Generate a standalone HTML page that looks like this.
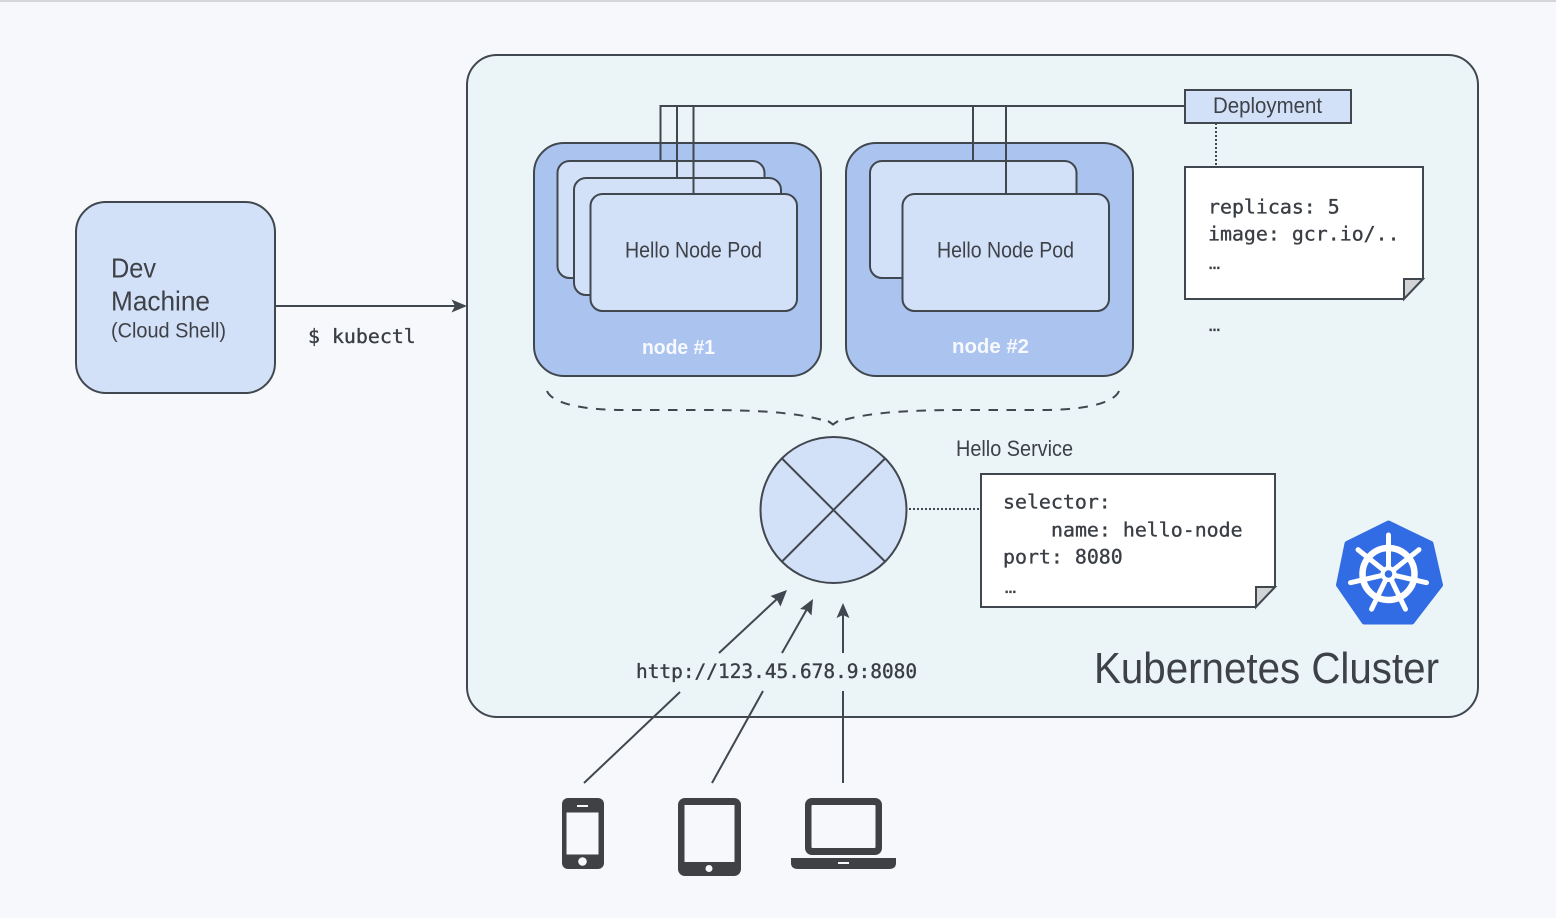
<!DOCTYPE html>
<html><head><meta charset="utf-8"><title>Kubernetes Cluster</title>
<style>
html,body{margin:0;padding:0;background:#f6f8fc}
svg{display:block}
.s{font-family:"Liberation Sans",sans-serif;fill:#3e4248}
.m{font-family:"DejaVu Sans Mono","Liberation Mono",monospace;fill:#3a3e44;font-size:19.9px;stroke:#3a3e44;stroke-width:.35px}
.d{font-size:12px;font-weight:bold}
.b{stroke:#41474f;stroke-width:2}
</style></head><body>
<svg width="1556" height="918" viewBox="0 0 1556 918" xmlns="http://www.w3.org/2000/svg">
<rect width="1556" height="918" fill="#f6f8fc"/>
<rect width="1556" height="2" fill="#d4d6d9"/>

<!-- Dev machine -->
<rect class="b" x="76" y="202" width="199" height="191" rx="30" fill="#d3e1f8"/>
<text class="s" x="111" y="277.500" font-size="28" textLength="45" lengthAdjust="spacingAndGlyphs">Dev</text>
<text class="s" x="111" y="310.500" font-size="28" textLength="99" lengthAdjust="spacingAndGlyphs">Machine</text>
<text class="s" x="111" y="337.500" font-size="21.5" textLength="115" lengthAdjust="spacingAndGlyphs">(Cloud Shell)</text>

<!-- Cluster -->
<rect class="b" x="467" y="55" width="1011" height="662" rx="30" fill="#ebf5f8"/>

<!-- kubectl arrow -->
<path d="M275 306H456" class="b" fill="none"/>
<path d="M467 306L451.500 299.500L455 306L451.500 312.500Z" fill="#41474f"/>
<text class="m" x="308" y="343">$ kubectl</text>

<!-- node 1 -->
<rect class="b" x="534" y="143" width="287" height="233" rx="30" fill="#abc3ef"/>
<rect class="b" x="557.500" y="161" width="207" height="117" rx="12" fill="#d3e1f8"/>
<rect class="b" x="574" y="178" width="207" height="117" rx="12" fill="#d3e1f8"/>
<rect class="b" x="590.500" y="194" width="206.500" height="117" rx="12" fill="#d3e1f8"/>
<text class="s" x="625" y="257.500" font-size="22" textLength="137" lengthAdjust="spacingAndGlyphs">Hello Node Pod</text>
<text x="642" y="354" font-family="Liberation Sans,sans-serif" font-weight="bold" font-size="20" fill="#f7f9fe" textLength="73" lengthAdjust="spacingAndGlyphs">node #1</text>

<!-- node 2 -->
<rect class="b" x="846" y="143" width="287" height="233" rx="30" fill="#abc3ef"/>
<rect class="b" x="870" y="161" width="206.500" height="117" rx="12" fill="#d3e1f8"/>
<rect class="b" x="902.500" y="194" width="206.500" height="117" rx="12" fill="#d3e1f8"/>
<text class="s" x="937" y="257.500" font-size="22" textLength="137" lengthAdjust="spacingAndGlyphs">Hello Node Pod</text>
<text x="952" y="353" font-family="Liberation Sans,sans-serif" font-weight="bold" font-size="20" fill="#f7f9fe" textLength="77" lengthAdjust="spacingAndGlyphs">node #2</text>

<!-- deployment connectors -->
<path class="b" fill="none" d="M1185 106H660.500V161M677 106V178M693.500 106V194M973 106V161M1006 106V194"/>
<rect class="b" x="1185" y="90" width="166" height="33" fill="#d3e1f8"/>
<text class="s" x="1213" y="113" font-size="22" textLength="109" lengthAdjust="spacingAndGlyphs">Deployment</text>
<path d="M1216 123V167" stroke="#41474f" stroke-width="2" stroke-dasharray="2 2" fill="none"/>

<!-- note 1 -->
<path class="b" fill="#fff" d="M1185 167H1423V279L1403 299H1185Z"/>
<path class="b" fill="#d2d3d4" d="M1423 279H1404V299Z"/>
<text class="m" x="1208" y="213.500">replicas: 5</text>
<text class="m" x="1208" y="240.500">image: gcr.io/..</text>
<text class="m d" x="1207" y="269" textLength="15">...</text>
<text class="m d" x="1207" y="331" textLength="15">...</text>

<!-- brace -->
<path d="M547 391C552 403 580 410 625 410H700C755 410 795 412 824 420.500" fill="none" stroke="#41474f" stroke-width="2" stroke-dasharray="9.500 8.500"/>
<path d="M1119 391C1114 403 1086 410 1041 410H966C911 410 871 412 842 420.500" fill="none" stroke="#41474f" stroke-width="2" stroke-dasharray="9.500 8.500"/>
<path d="M828 421L833 424.500L838 421" fill="none" stroke="#41474f" stroke-width="2"/>

<!-- service -->
<circle class="b" cx="833.500" cy="510" r="73" fill="#d3e1f8"/>
<path class="b" d="M782 458.500L885 561.500M885 458.500L782 561.500" fill="none"/>
<path d="M909 509H981" stroke="#41474f" stroke-width="2" stroke-dasharray="2 2" fill="none"/>
<text class="s" x="956" y="456" font-size="22" textLength="117" lengthAdjust="spacingAndGlyphs">Hello Service</text>

<!-- note 2 -->
<path class="b" fill="#fff" d="M981 474H1275V587L1255 607H981Z"/>
<path class="b" fill="#d2d3d4" d="M1275 587H1256V607Z"/>
<text class="m" x="1003" y="508.500">selector:</text>
<text class="m" x="1051" y="536.500">name: hello-node</text>
<text class="m" x="1003" y="563.500">port: 8080</text>
<text class="m d" x="1003" y="593" textLength="15">...</text>

<!-- k8s logo -->
<path d="M1388.500 523L1431 543.500L1440.500 585L1412 622H1364L1338.500 585L1347 543.500Z" fill="#326ce5" stroke="#326ce5" stroke-width="5" stroke-linejoin="round"/>
<g transform="translate(1388.500 574)" fill="none" stroke="#fff">
<circle r="26" stroke-width="6.500"/>
<circle r="8" fill="#fff" stroke="none"/>
<g stroke-width="5" stroke-linecap="round">
<path d="M0 -5V-39"/>
<path d="M0 -5V-39" transform="rotate(51.430)"/>
<path d="M0 -5V-39" transform="rotate(102.860)"/>
<path d="M0 -5V-39" transform="rotate(154.290)"/>
<path d="M0 -5V-39" transform="rotate(205.710)"/>
<path d="M0 -5V-39" transform="rotate(257.140)"/>
<path d="M0 -5V-39" transform="rotate(308.570)"/>
</g>
<circle r="3.800" fill="#326ce5" stroke="none"/>
</g>

<text class="s" x="1094" y="683" font-size="44" textLength="345" lengthAdjust="spacingAndGlyphs">Kubernetes Cluster</text>

<!-- arrows -->
<g class="b" fill="none">
<path d="M584 783L680 692M719 653L778 598"/>
<path d="M712 783L763 691M782 653L807 609"/>
<path d="M843 783V691M843 653V614"/>
</g>
<g fill="#41474f">
<path d="M787 590L770.500 596L777 600L780.500 606.500Z"/>
<path d="M813 599L800 609L806.500 610L811.500 615.500Z"/>
<path d="M843 603L836.500 618L843 615L849.500 618Z"/>
</g>
<text class="m" x="636" y="678" style="font-size:19.470px">http://123.45.678.9:8080</text>

<!-- phone -->
<rect x="562" y="798" width="42" height="71" rx="6" fill="#3f4145"/>
<rect x="566.500" y="812.500" width="32" height="42" fill="#f6f8fc"/>
<rect x="577" y="805" width="11" height="2" fill="#f6f8fc"/>
<circle cx="582.500" cy="861.500" r="4.300" fill="#f6f8fc"/>

<!-- tablet -->
<rect x="678" y="798" width="63" height="78" rx="7" fill="#3f4145"/>
<rect x="684.500" y="805" width="50" height="57" fill="#f6f8fc"/>
<circle cx="709" cy="868.500" r="3.500" fill="#f6f8fc"/>

<!-- laptop -->
<rect x="805" y="798" width="77" height="57" rx="7" fill="#3f4145"/>
<rect x="811.500" y="805" width="64" height="43" rx="1" fill="#f6f8fc"/>
<path d="M791 858H896V863Q896 869 889 869H798Q791 869 791 863Z" fill="#3f4145"/>
<rect x="838" y="862" width="11" height="2" fill="#f6f8fc"/>
</svg>
</body></html>
